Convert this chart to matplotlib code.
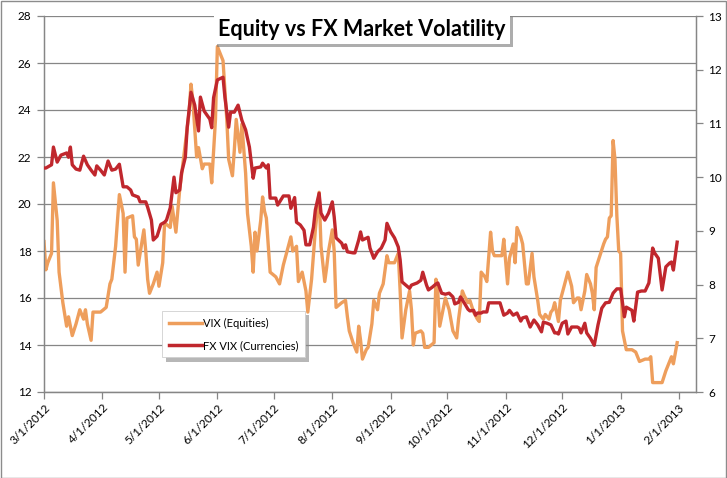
import matplotlib
matplotlib.use("Agg")
import matplotlib.pyplot as plt
import matplotlib.dates as mdates
import matplotlib.patheffects as pe
import numpy as np
import datetime as dt

plt.rcParams['font.family'] = ['Lato', 'DejaVu Sans']

# ---- data (day offsets from 2012-03-01) ----
start_date = dt.date(2012, 3, 1)

vix_days = [0, 1, 2, 4, 5, 7, 8, 10, 12, 13, 15, 17, 19, 21, 22, 23, 25, 26, 30, 33, 35, 36, 38, 40, 42, 43,
            44, 47, 48, 49, 50, 53, 54, 55, 56, 58, 60, 61, 63, 64, 67, 68, 70, 72, 74, 77, 78, 79, 81, 82,
            84, 85, 88, 89, 91, 92, 95, 97, 98, 100, 101, 102, 104, 105, 107, 108, 110, 111, 112, 113, 115,
            116, 117, 118, 120, 123, 125, 127, 128, 131, 132, 134, 135, 137, 139, 140, 142, 144, 146, 147,
            149, 150, 151, 153, 154, 155, 158, 160, 161, 162, 164, 166, 167, 168, 169, 171, 172, 174, 175,
            177, 178, 180, 182, 183, 186, 188, 189, 190, 192, 194, 195, 196, 197, 200, 201, 202, 204, 207,
            208, 209, 210, 212, 213, 215, 217, 219, 220, 222, 223, 225, 226, 228, 230, 231, 232, 234, 235,
            237, 238, 239, 243, 244, 246, 247, 249, 250, 251, 253, 254, 256, 257, 259, 260, 262, 263, 265,
            266, 268, 269, 270, 271, 273, 274, 276, 278, 280, 281, 283, 284, 285, 287, 288, 290, 291, 292,
            293, 295, 297, 298, 299, 300, 301, 302, 303, 304, 305, 306, 307, 309, 312, 314, 315, 316, 319,
            321, 322, 323, 326, 328, 330, 333, 334, 336]
vix_vals = [18.4, 17.2, 17.5, 17.9, 20.9, 19.3, 17.1, 15.8, 14.8, 15.2, 14.4, 14.9, 15.5, 15.1, 15.5, 14.9,
            14.2, 15.4, 15.4, 15.6, 16.6, 16.8, 18.2, 20.4, 19.6, 17.1,
            19.4, 19.5, 18.6, 18.5, 17.4, 18.9, 18.0, 16.8, 16.2, 16.6, 17.1, 16.5, 17.5, 19.2, 19.0, 19.9,
            18.8, 20.6, 21.9, 23.9, 25.1, 24.4, 22.0, 22.4,
            21.5, 21.7, 21.7, 20.9, 23.6, 26.7, 26.1, 23.6, 21.9, 21.2, 22.3, 23.6, 22.2, 23.4, 21.3, 19.6,
            18.2, 17.1, 18.8, 18.0, 19.3,
            20.3, 19.7, 19.4, 17.1, 16.9, 16.6, 17.4, 17.7, 18.6, 18.0, 18.2, 16.7, 17.1, 16.3, 15.4, 16.8,
            18.9, 20.5, 18.2,
            16.7, 17.3, 18.0, 18.9, 18.0, 15.6, 15.8, 15.9, 15.2, 14.6, 14.1, 13.7, 14.8, 14.2, 13.4, 13.8,
            13.9, 14.9, 15.9,
            15.5, 16.2, 16.6, 17.8, 17.5, 17.5, 17.9, 16.3, 14.3, 15.5, 16.3, 15.5, 14.0, 14.5, 14.6, 14.5,
            13.9, 13.9, 14.1,
            16.8, 16.2, 14.8, 15.6, 16.0, 15.5, 14.6, 14.3, 15.1, 16.3, 16.1, 15.8, 15.9, 15.4, 15.1, 15.0,
            17.1, 16.9, 16.7,
            18.8, 18.0, 17.8, 17.8, 18.5, 16.6, 17.7, 18.3, 17.5, 19.0, 18.6, 18.3, 16.6, 16.6, 17.9, 16.9,
            15.9, 15.3, 15.1,
            15.3, 15.1, 15.4, 15.5, 15.8, 15.0, 15.9, 16.5, 17.1, 16.5, 15.8, 16.0, 16.0, 15.5, 16.3, 17.0,
            16.6, 16.2, 15.5,
            17.3, 17.8, 18.3, 18.5, 18.6, 19.4, 19.5, 22.7, 21.9, 19.5, 18.0, 17.9, 14.6, 13.8, 13.8, 13.7,
            13.5, 13.3, 13.4,
            13.4, 13.5, 12.4, 12.4, 12.4, 12.9, 13.5, 13.2, 14.1]

fx_days = [0, 1, 4, 5, 7, 9, 12, 13, 14, 15, 17, 19, 21, 23, 25, 27, 28, 30, 32, 34, 36, 38, 40, 42, 44,
           46, 47, 50, 51, 54, 55, 57, 58, 60, 62, 64, 65, 67, 69, 70, 72, 73, 75, 76, 78, 80, 82, 83, 85,
           88, 89, 90, 92, 95, 96, 98, 99, 101, 103, 105, 107, 109, 111, 112, 115, 116, 118, 119, 120, 123,
           124, 127, 130, 131, 133, 134, 136, 138, 139, 141, 143, 144, 146, 147, 149, 151, 153, 154, 155,
           158, 159, 160, 161, 164, 165, 167, 168, 169, 172, 173, 175, 177, 179, 181, 182, 184, 186, 188,
           189, 190, 192, 194, 195, 198, 200, 201, 203, 204, 206, 208, 209, 211, 213, 215, 217, 218, 220,
           221, 223, 225, 226, 228, 229, 230, 232, 233, 235, 236, 238, 240, 242, 244, 246, 247, 249, 251,
           253, 254, 256, 258, 260, 262, 264, 265, 267, 269, 271, 272, 273, 275, 277, 278, 280, 283, 284,
           285, 287, 288, 290, 292, 294, 296, 298, 300, 302, 304, 306, 307, 308, 309, 312, 313, 315, 317,
           319, 321, 323, 324, 326, 328, 330, 332, 333, 334, 336]
fx_vals = [10.17, 10.17, 10.23, 10.56, 10.28, 10.41, 10.45, 10.37, 10.56, 10.23, 10.15, 10.13, 10.39, 10.23,
           10.13, 10.04, 10.21, 10.13, 10.04, 10.30, 10.13, 10.15, 10.24, 9.82, 9.82,
           9.76, 9.67, 9.63, 9.54, 9.54, 9.44, 9.20, 8.83, 8.90, 9.12, 9.16, 9.20, 9.43, 10.00, 9.71, 9.76,
           10.08, 10.37, 10.93, 11.58, 11.34, 10.86, 11.49, 11.23,
           11.08, 10.92, 11.48, 11.81, 11.86, 11.49, 10.93, 11.21, 11.21, 11.34, 11.06, 10.88, 10.56, 9.98,
           10.17, 10.19, 10.26, 10.17, 10.23, 9.61, 9.61,
           9.48, 9.65, 9.65, 9.42, 9.62, 9.16, 9.11, 9.01, 8.74, 8.74, 9.07, 9.39, 9.70, 9.33, 9.20, 9.33,
           9.54, 9.26, 8.87,
           8.77, 8.68, 8.74, 8.61, 8.59, 8.59, 8.83, 8.98, 8.83, 8.88, 8.68, 8.49, 8.61, 8.68, 8.83, 9.14,
           8.98, 8.87, 8.70,
           8.46, 8.05, 7.99, 7.93, 7.99, 8.03, 8.08, 8.23, 7.99, 7.90, 7.95, 8.01, 8.03, 7.84, 7.82, 7.84,
           7.77, 7.64, 7.67,
           7.77, 7.66, 7.54, 7.51, 7.52, 7.43, 7.47, 7.47, 7.49, 7.49, 7.66, 7.66, 7.66, 7.66, 7.43, 7.47,
           7.52, 7.43, 7.47,
           7.32, 7.38, 7.40, 7.21, 7.34, 7.25, 7.12, 7.30, 7.28, 7.25, 7.10, 7.10, 7.08, 7.28, 7.32, 7.08,
           7.21, 7.21, 7.19,
           7.10, 7.28, 7.10, 7.00, 6.87, 7.25, 7.56, 7.66, 7.67, 7.84, 7.92, 7.92, 7.66, 7.40, 7.58, 7.52,
           7.32, 7.86, 7.88,
           7.88, 8.03, 8.68, 8.59, 8.49, 7.90, 8.33, 8.40, 8.42, 8.27, 8.79]

series_labels = ["VIX (Equities)", "FX VIX (Currencies)"]
title_text = "Equity vs FX Market Volatility"
tick_dates = [dt.date(2012, m, 1) for m in range(3, 13)] + [dt.date(2013, 1, 1), dt.date(2013, 2, 1)]

vix_dates = [start_date + dt.timedelta(days=d) for d in vix_days]
fx_dates = [start_date + dt.timedelta(days=d) for d in fx_days]

# ---- figure ----
W, H = 727, 478
fig = plt.figure(figsize=(W / 100, H / 100), dpi=100)
fig.patch.set_facecolor("white")

L, R, T, B = 44, 696, 16, 392
ax = fig.add_axes([L / W, 1 - B / H, (R - L) / W, (B - T) / H])
ax2 = ax.twinx()

grid_c = "#868686"
orange = "#EE9E5C"
red = "#C0272D"

ax.plot(vix_dates, vix_vals, color=orange, lw=2.4, solid_joinstyle="round", zorder=3)
ax2.plot(fx_dates, fx_vals, color=red, lw=2.4, solid_joinstyle="round", zorder=3)

ax.set_ylim(12, 28)
ax.set_yticks(np.arange(12, 29, 2))
ax2.set_ylim(6, 13)
ax2.set_yticks(np.arange(6, 14, 1))

x0 = dt.date(2012, 3, 1)
x1 = dt.date(2013, 2, 10)
ax.set_xlim(x0, x1)
ax.set_xticks(tick_dates)
ax.xaxis.set_major_formatter(
    matplotlib.ticker.FuncFormatter(lambda v, p: "{d.month}/{d.day}/{d.year}".format(d=mdates.num2date(v))))

ax.grid(axis="y", color=grid_c, lw=0.9)
ax.set_axisbelow(True)
for a in (ax, ax2):
    a.spines["top"].set_visible(False)
    for s in ("left", "right", "bottom"):
        a.spines[s].set_color(grid_c)
        a.spines[s].set_linewidth(0.9)
ax.tick_params(axis="y", direction="out", length=5, width=0.9, color=grid_c, labelsize=8.5, pad=4,
               labelcolor="black")
ax2.tick_params(axis="y", direction="out", length=5, width=0.9, color=grid_c, labelsize=8.5, pad=4,
                labelcolor="black")
ax.tick_params(axis="x", direction="out", length=5, width=0.9, color=grid_c, labelsize=8.5, pad=2,
               labelcolor="black")
for lbl in ax.get_xticklabels():
    lbl.set_rotation(45)
    lbl.set_ha("right")
    lbl.set_rotation_mode("anchor")

# title box with shadow
t = fig.text(362 / W, 1 - 29 / H, title_text, ha="center", va="center", fontsize=15.5, fontweight="bold",
             bbox=dict(boxstyle="square,pad=0.2", fc="white", ec="none"), zorder=10)
t.get_bbox_patch().set_path_effects([pe.SimplePatchShadow(offset=(2, -2), shadow_rgbFace="#777777", alpha=0.6),
                                     pe.Normal()])

# legend
h1 = matplotlib.lines.Line2D([], [], color=orange, lw=2.5)
h2 = matplotlib.lines.Line2D([], [], color=red, lw=2.5)
leg = ax2.legend([h1, h2], series_labels, loc="upper left",
                 bbox_to_anchor=(162 / W, 1 - 311 / H), bbox_transform=fig.transFigure,
                 fontsize=8, frameon=True, fancybox=False, edgecolor="#d0d0d0", framealpha=1,
                 handlelength=3.0, handletextpad=0.1, labelspacing=1.0, borderpad=0.6, borderaxespad=0)
leg.get_frame().set_linewidth(0.6)
leg.get_frame().set_path_effects([pe.SimplePatchShadow(offset=(3, -3), shadow_rgbFace="#888888", alpha=0.6),
                                  pe.Normal()])
leg.set_zorder(20)

# outer border
fig.add_artist(matplotlib.patches.Rectangle((0.5 / W, 0.5 / H), 1 - 1.5 / W, 1 - 1.5 / H,
                                            transform=fig.transFigure, fill=False, ec="#8c8c8c", lw=1))

fig.savefig("out.png", dpi=100)
